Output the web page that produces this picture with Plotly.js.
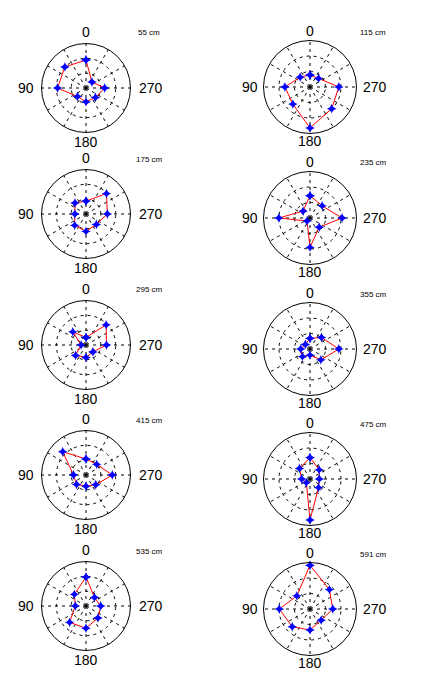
<!DOCTYPE html>
<html><head><meta charset="utf-8">
<script src="https://cdn.plot.ly/plotly-3.0.1.min.js"></script>
<style>html,body{margin:0;padding:0;background:#fff}#chart{width:427px;height:685px}</style>
</head><body><div id="chart"></div>
<script>
// Directions (degrees) of the 8 measurements
const directions = [0, 45, 90, 135, 180, 225, 270, 315];
// Depth labels of the 10 panels
const depthLabels = ['55 cm', '115 cm', '175 cm', '235 cm', '295 cm', '355 cm', '415 cm', '475 cm', '535 cm', '591 cm'];
// Angular tick labels shown around each panel
const angleTickLabels = ['0', '90', '180', '270'];
// Radial values (fraction of outer radius), one array per depth
const r55  = [0.63, 0.67, 0.64, 0.27, 0.31, 0.30, 0.42, 0.19];
const r115 = [0.26, 0.30, 0.54, 0.52, 0.88, 0.66, 0.62, 0.26];
const r175 = [0.29, 0.35, 0.25, 0.36, 0.39, 0.33, 0.48, 0.65];
const r235 = [0.48, 0.21, 0.67, 0.09, 0.63, 0.28, 0.69, 0.37];
const r295 = [0.17, 0.42, 0.11, 0.33, 0.28, 0.22, 0.46, 0.64];
const r355 = [0.23, 0.14, 0.20, 0.23, 0.13, 0.33, 0.62, 0.35];
const r415 = [0.36, 0.74, 0.28, 0.30, 0.25, 0.31, 0.59, 0.34];
const r475 = [0.46, 0.32, 0.18, 0.11, 0.88, 0.26, 0.20, 0.28];
const r535 = [0.65, 0.37, 0.24, 0.52, 0.50, 0.38, 0.33, 0.27];
const r591 = [0.94, 0.40, 0.66, 0.54, 0.45, 0.34, 0.49, 0.59];
const series = [r55, r115, r175, r235, r295, r355, r415, r475, r535, r591];

const W = 427, H = 685;
const centers = [[86,88],[310,87],[86,214],[310,218],[86,345],[310,349],[86,475],[310,479],[86,606],[310,609]];

const data = [];
const layout = {
  width: W, height: H,
  margin: {l:0, r:0, t:0, b:0},
  paper_bgcolor: '#ffffff',
  showlegend: false,
  annotations: []
};
const px = x => x / W;
const py = y => 1 - y / H;
const lab = (text, x, y, size, h) => ({
  text: text, xref: 'paper', yref: 'paper', x: px(x), y: py(y),
  xanchor: 'center', yanchor: 'middle', showarrow: false, borderpad: 0,
  height: h, valign: 'middle',
  font: {family: 'Liberation Sans, Arial, sans-serif', size: size, color: '#000'}
});

series.forEach((vals, i) => {
  const key = i === 0 ? 'polar' : 'polar' + (i + 1);
  const [cx, cy] = centers[i];
  const R = (i % 2 === 0) ? 44.5 : 46.5;
  layout[key] = {
    domain: {x: [px(cx - R), px(cx + R)], y: [py(cy + R), py(cy - R)]},
    bgcolor: '#ffffff',
    angularaxis: {
      rotation: 90, direction: 'counterclockwise', dtick: 30,
      showticklabels: false, ticks: '',
      showline: true, linecolor: '#000', linewidth: 1,
      showgrid: true, gridcolor: '#000', gridwidth: 1, griddash: '3px,4px'
    },
    radialaxis: {
      range: [0, 1], tickvals: [1/3, 2/3], showticklabels: false, ticks: '',
      showline: false, showgrid: true, gridcolor: '#000', gridwidth: 1, griddash: '3px,4px'
    }
  };
  data.push({
    type: 'scatterpolar', subplot: key,
    r: vals.concat([vals[0]]),
    theta: directions.concat([directions[0]]),
    mode: 'lines+markers',
    line: {color: '#ff0000', width: 1},
    marker: {color: '#0000ff', symbol: 'star-diamond', size: 7},
    hoverinfo: 'skip'
  });
  layout.annotations.push(lab(angleTickLabels[0], cx, cy - 56, 14, 12));
  layout.annotations.push(lab(angleTickLabels[1], cx - 60, cy, 14, 12));
  layout.annotations.push(lab(angleTickLabels[2], cx, cy + 54, 14, 12));
  layout.annotations.push(lab(angleTickLabels[3], cx + 65, cy, 14, 12));
  layout.annotations.push(lab(depthLabels[i], cx + 63, cy - 55, 8, 9));
});

Plotly.newPlot('chart', data, layout, {staticPlot: true});
</script>
</body></html>
